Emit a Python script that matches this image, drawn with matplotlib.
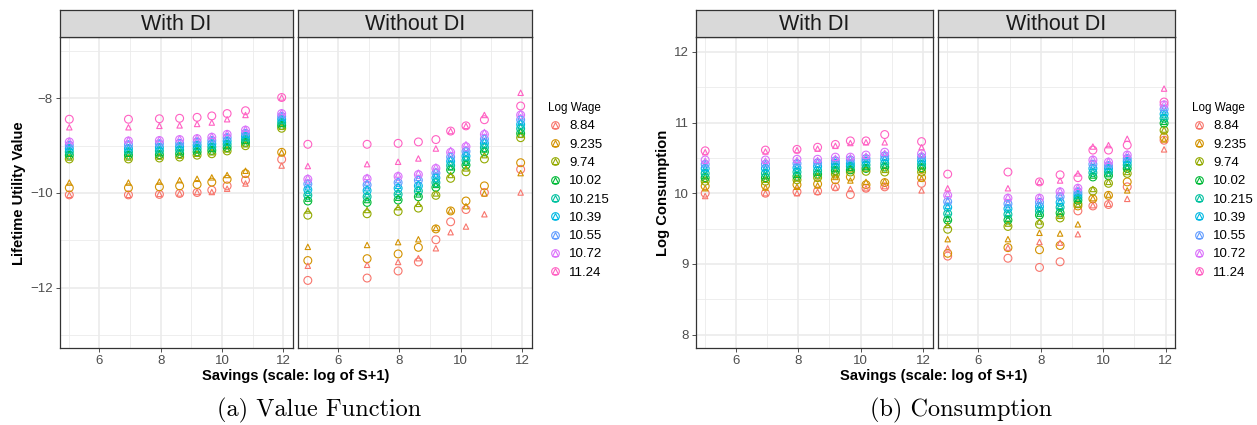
import numpy as np
import matplotlib
matplotlib.use("Agg")
import matplotlib.pyplot as plt
from matplotlib.lines import Line2D

plt.rcParams["font.family"] = ["Liberation Sans", "DejaVu Sans"]

# ---------------------------------------------------------------------------
# data (rows = log wage, columns = savings grid)
# ---------------------------------------------------------------------------
savings = [5.02, 6.95, 7.96, 8.62, 9.19, 9.67, 10.17, 10.77, 11.95]
wage_labels = ["8.84", "9.235", "9.74", "10.02", "10.215", "10.39", "10.55", "10.72", "11.24"]

# value function, with DI (circles / triangles)
vf_with_circ = [
    [-10.04, -10.04, -10.03, -10.01, -9.99, -9.94, -9.85, -9.73, -9.29],
    [-9.89, -9.89, -9.87, -9.85, -9.82, -9.77, -9.71, -9.59, -9.14],
    [-9.28, -9.28, -9.26, -9.24, -9.20, -9.17, -9.11, -9.00, -8.63],
    [-9.20, -9.20, -9.19, -9.17, -9.13, -9.10, -9.04, -8.93, -8.57],
    [-9.13, -9.13, -9.11, -9.09, -9.06, -9.03, -8.97, -8.87, -8.51],
    [-9.06, -9.06, -9.04, -9.02, -8.99, -8.96, -8.90, -8.80, -8.44],
    [-8.99, -8.98, -8.96, -8.95, -8.92, -8.89, -8.83, -8.74, -8.38],
    [-8.92, -8.90, -8.89, -8.87, -8.85, -8.82, -8.76, -8.67, -8.32],
    [-8.44, -8.44, -8.43, -8.42, -8.40, -8.37, -8.32, -8.26, -7.98],
]
vf_with_tri = [
    [-10.04, -10.04, -10.02, -10.01, -9.98, -9.98, -9.91, -9.80, -9.42],
    [-9.78, -9.78, -9.76, -9.73, -9.70, -9.67, -9.62, -9.53, -9.14],
    [-9.25, -9.25, -9.23, -9.21, -9.17, -9.14, -9.08, -8.97, -8.60],
    [-9.17, -9.17, -9.16, -9.14, -9.10, -9.07, -9.01, -8.90, -8.54],
    [-9.10, -9.10, -9.08, -9.06, -9.03, -9.00, -8.94, -8.84, -8.48],
    [-9.03, -9.03, -9.01, -8.99, -8.96, -8.93, -8.87, -8.77, -8.41],
    [-8.96, -8.95, -8.93, -8.92, -8.89, -8.86, -8.80, -8.71, -8.35],
    [-8.89, -8.87, -8.86, -8.84, -8.82, -8.79, -8.73, -8.64, -8.29],
    [-8.61, -8.61, -8.58, -8.57, -8.54, -8.51, -8.44, -8.35, -7.98],
]

# value function, without DI
vf_without_circ = [
    [-11.85, -11.80, -11.65, -11.46, -10.99, -10.61, -10.35, -9.99, -9.50],
    [-11.43, -11.39, -11.29, -11.15, -10.76, -10.38, -10.17, -9.85, -9.36],
    [-10.47, -10.44, -10.39, -10.32, -10.05, -9.69, -9.55, -9.28, -8.83],
    [-10.17, -10.20, -10.15, -10.08, -9.88, -9.51, -9.41, -9.13, -8.74],
    [-10.05, -10.08, -10.03, -9.96, -9.78, -9.42, -9.31, -9.04, -8.64],
    [-9.93, -9.95, -9.90, -9.85, -9.68, -9.33, -9.22, -8.95, -8.55],
    [-9.81, -9.83, -9.78, -9.73, -9.58, -9.24, -9.12, -8.86, -8.45],
    [-9.71, -9.70, -9.65, -9.61, -9.48, -9.14, -9.02, -8.76, -8.35],
    [-8.97, -8.97, -8.95, -8.92, -8.87, -8.69, -8.58, -8.45, -8.16],
]
vf_without_tri = [
    [-11.54, -11.52, -11.46, -11.38, -11.17, -10.83, -10.71, -10.45, -9.99],
    [-11.14, -11.10, -11.04, -10.98, -10.74, -10.37, -10.28, -10.01, -9.58],
    [-10.37, -10.36, -10.30, -10.23, -10.01, -9.62, -9.48, -9.20, -8.77],
    [-10.12, -10.15, -10.10, -10.03, -9.83, -9.46, -9.36, -9.08, -8.69],
    [-10.00, -10.03, -9.98, -9.91, -9.73, -9.37, -9.26, -8.99, -8.59],
    [-9.88, -9.90, -9.85, -9.80, -9.63, -9.28, -9.17, -8.90, -8.50],
    [-9.77, -9.78, -9.73, -9.68, -9.53, -9.19, -9.07, -8.81, -8.40],
    [-9.67, -9.66, -9.61, -9.57, -9.44, -9.09, -8.97, -8.71, -8.30],
    [-9.43, -9.39, -9.34, -9.27, -9.06, -8.69, -8.58, -8.35, -7.88],
]

# log consumption, with DI
cons_with_circ = [
    [10.00, 10.00, 10.02, 10.03, 10.09, 9.98, 10.07, 10.09, 10.14],
    [10.10, 10.11, 10.12, 10.13, 10.19, 10.23, 10.12, 10.15, 10.22],
    [10.17, 10.17, 10.19, 10.22, 10.27, 10.30, 10.31, 10.30, 10.30],
    [10.22, 10.22, 10.24, 10.27, 10.32, 10.33, 10.35, 10.37, 10.36],
    [10.28, 10.28, 10.30, 10.32, 10.37, 10.38, 10.40, 10.42, 10.41],
    [10.35, 10.35, 10.36, 10.38, 10.42, 10.42, 10.45, 10.48, 10.46],
    [10.41, 10.41, 10.42, 10.43, 10.46, 10.47, 10.49, 10.53, 10.51],
    [10.47, 10.47, 10.48, 10.48, 10.51, 10.51, 10.54, 10.58, 10.56],
    [10.60, 10.61, 10.62, 10.65, 10.69, 10.74, 10.74, 10.83, 10.73],
]
cons_with_tri = [
    [9.96, 10.00, 10.00, 10.02, 10.08, 10.06, 10.07, 10.10, 10.04],
    [10.07, 10.08, 10.09, 10.11, 10.23, 10.18, 10.16, 10.17, 10.21],
    [10.19, 10.19, 10.21, 10.24, 10.29, 10.34, 10.35, 10.33, 10.33],
    [10.24, 10.24, 10.26, 10.29, 10.34, 10.36, 10.37, 10.39, 10.38],
    [10.30, 10.30, 10.32, 10.34, 10.39, 10.40, 10.42, 10.44, 10.43],
    [10.36, 10.36, 10.38, 10.40, 10.44, 10.44, 10.47, 10.50, 10.48],
    [10.42, 10.42, 10.44, 10.45, 10.48, 10.49, 10.51, 10.55, 10.53],
    [10.46, 10.46, 10.47, 10.47, 10.50, 10.51, 10.53, 10.57, 10.55],
    [10.58, 10.59, 10.61, 10.63, 10.67, 10.71, 10.72, 10.72, 10.65],
]

# log consumption, without DI
cons_without_circ = [
    [9.11, 9.08, 8.95, 9.03, 9.75, 9.82, 9.84, 10.09, 10.75],
    [9.15, 9.23, 9.20, 9.26, 9.82, 9.92, 9.97, 10.16, 10.79],
    [9.49, 9.53, 9.56, 9.65, 9.85, 10.03, 10.14, 10.28, 10.89],
    [9.62, 9.62, 9.69, 9.72, 9.90, 10.23, 10.25, 10.35, 10.99],
    [9.71, 9.70, 9.75, 9.80, 9.94, 10.29, 10.30, 10.40, 11.06],
    [9.80, 9.78, 9.81, 9.87, 9.98, 10.35, 10.35, 10.45, 11.12],
    [9.88, 9.85, 9.87, 9.95, 10.02, 10.41, 10.39, 10.49, 11.19],
    [9.97, 9.93, 9.93, 10.02, 10.07, 10.47, 10.44, 10.54, 11.25],
    [10.27, 10.30, 10.16, 10.26, 10.22, 10.61, 10.61, 10.68, 11.29],
]
cons_without_tri = [
    [9.22, 9.23, 9.31, 9.30, 9.42, 9.83, 9.85, 9.92, 10.62],
    [9.35, 9.35, 9.44, 9.43, 9.56, 9.93, 9.98, 10.04, 10.76],
    [9.55, 9.57, 9.60, 9.68, 9.84, 10.06, 10.16, 10.30, 10.90],
    [9.64, 9.64, 9.71, 9.74, 9.92, 10.25, 10.27, 10.37, 11.01],
    [9.73, 9.72, 9.77, 9.82, 9.96, 10.31, 10.32, 10.42, 11.08],
    [9.82, 9.80, 9.83, 9.89, 10.00, 10.37, 10.37, 10.47, 11.14],
    [9.90, 9.87, 9.89, 9.97, 10.04, 10.43, 10.41, 10.51, 11.21],
    [9.99, 9.95, 9.95, 10.04, 10.09, 10.49, 10.46, 10.56, 11.27],
    [10.07, 10.07, 10.16, 10.18, 10.28, 10.66, 10.68, 10.77, 11.48],
]

# ggplot2 default hue palette for 9 levels
colors = ["#F8766D", "#D39200", "#93AA00", "#00BA38", "#00C19F",
          "#00B9E3", "#619CFF", "#DB72FB", "#FF61C3"]

W, H = 1257, 425
fig = plt.figure(figsize=(W / 100, H / 100), dpi=100)


def box(x0, y0, x1, y1):
    # pixel box (top-left origin) -> figure fraction rect
    return [x0 / W, 1 - y1 / H, (x1 - x0) / W, (y1 - y0) / H]


def strip(x0, x1, label):
    sa = fig.add_axes(box(x0, 10, x1, 37))
    sa.set_facecolor("#D9D9D9")
    sa.set_xticks([])
    sa.set_yticks([])
    for s in sa.spines.values():
        s.set_color("#333333")
        s.set_linewidth(0.9)
    sa.text(0.5, 0.47, label, ha="center", va="center", fontsize=15.5, color="#1A1A1A",
            transform=sa.transAxes)


def panel(x0, x1, circ, tri, xlim, ylim, yticks, yminor, show_y, title):
    ax = fig.add_axes(box(x0, 37, x1, 348))
    for i, c in enumerate(colors):
        ax.scatter(savings, circ[i], s=32, marker="o", facecolors="none",
                   edgecolors=c, linewidths=0.8, zorder=3)
    for i, c in enumerate(colors):
        ax.scatter(savings, tri[i], s=15, marker="^", facecolors="none",
                   edgecolors=c, linewidths=0.8, zorder=3)
    ax.set_xlim(xlim)
    ax.set_ylim(ylim)
    ax.set_xticks([6, 8, 10, 12])
    ax.set_xticks([5, 7, 9, 11], minor=True)
    ax.set_yticks(yticks)
    ax.set_yticks(yminor, minor=True)
    ax.grid(which="major", color="#EBEBEB", lw=1.2)
    ax.grid(which="minor", color="#EBEBEB", lw=0.6)
    ax.set_axisbelow(True)
    ax.tick_params(which="minor", length=0)
    ax.tick_params(which="major", length=3, width=0.6, color="#333333",
                   labelsize=9.5, labelcolor="#4D4D4D", pad=2)
    if not show_y:
        ax.tick_params(axis="y", left=False, labelleft=False)
    for s in ax.spines.values():
        s.set_color("#333333")
        s.set_linewidth(0.9)
    strip(x0, x1, title)
    return ax


# (a) value function
vf_lim = (-13.28, -6.70)
panel(59.5, 293, vf_with_circ, vf_with_tri, (4.70, 12.32), vf_lim,
      [-12, -10, -8], [-13, -11, -9, -7], True, "With DI")
panel(298, 532, vf_without_circ, vf_without_tri, (4.70, 12.32), vf_lim,
      [-12, -10, -8], [-13, -11, -9, -7], False, "Without DI")

# (b) consumption
c_lim = (7.81, 12.21)
panel(695.5, 932.5, cons_with_circ, cons_with_tri, (4.71, 12.30), c_lim,
      [8, 9, 10, 11, 12], [8.5, 9.5, 10.5, 11.5], True, "With DI")
panel(938, 1175, cons_without_circ, cons_without_tri, (4.71, 12.30), c_lim,
      [8, 9, 10, 11, 12], [8.5, 9.5, 10.5, 11.5], False, "Without DI")

# axis titles
fig.text(19 / W, 1 - 193 / H, "Lifetime Utility Value", rotation=90, ha="center",
         va="center", fontsize=10.6, fontweight="bold")
fig.text(663 / W, 1 - 193 / H, "Log Consumption", rotation=90, ha="center",
         va="center", fontsize=10.6, fontweight="bold")
fig.text(296 / W, 1 - 376 / H, "Savings (scale: log of S+1)", ha="center",
         va="center", fontsize=10.6, fontweight="bold")
fig.text(934 / W, 1 - 376 / H, "Savings (scale: log of S+1)", ha="center",
         va="center", fontsize=10.6, fontweight="bold")

# legends
handles = []
for c in colors:
    hc = Line2D([], [], ls="none", marker="o", mfc="none", mec=c, ms=5.5, mew=0.8)
    ht = Line2D([], [], ls="none", marker="^", mfc="none", mec=c, ms=3.8, mew=0.8)
    handles.append((hc, ht))
for lx in (548, 1192):
    fig.legend(handles, wage_labels, title="Log Wage", loc="upper left",
               bbox_to_anchor=(lx / W, 1 - 102 / H), frameon=False, fontsize=9.5,
               title_fontsize=8.4, handlelength=1.0, handletextpad=0.6,
               labelspacing=0.46, borderpad=0, borderaxespad=0, alignment="left")

# sub-captions
fig.text(319 / W, 1 - 410 / H, "(a) Value Function", ha="center", va="center",
         fontsize=17.5, family="cmr10")
fig.text(961 / W, 1 - 410 / H, "(b) Consumption", ha="center", va="center",
         fontsize=17.5, family="cmr10")

fig.savefig("out.png", dpi=100)
